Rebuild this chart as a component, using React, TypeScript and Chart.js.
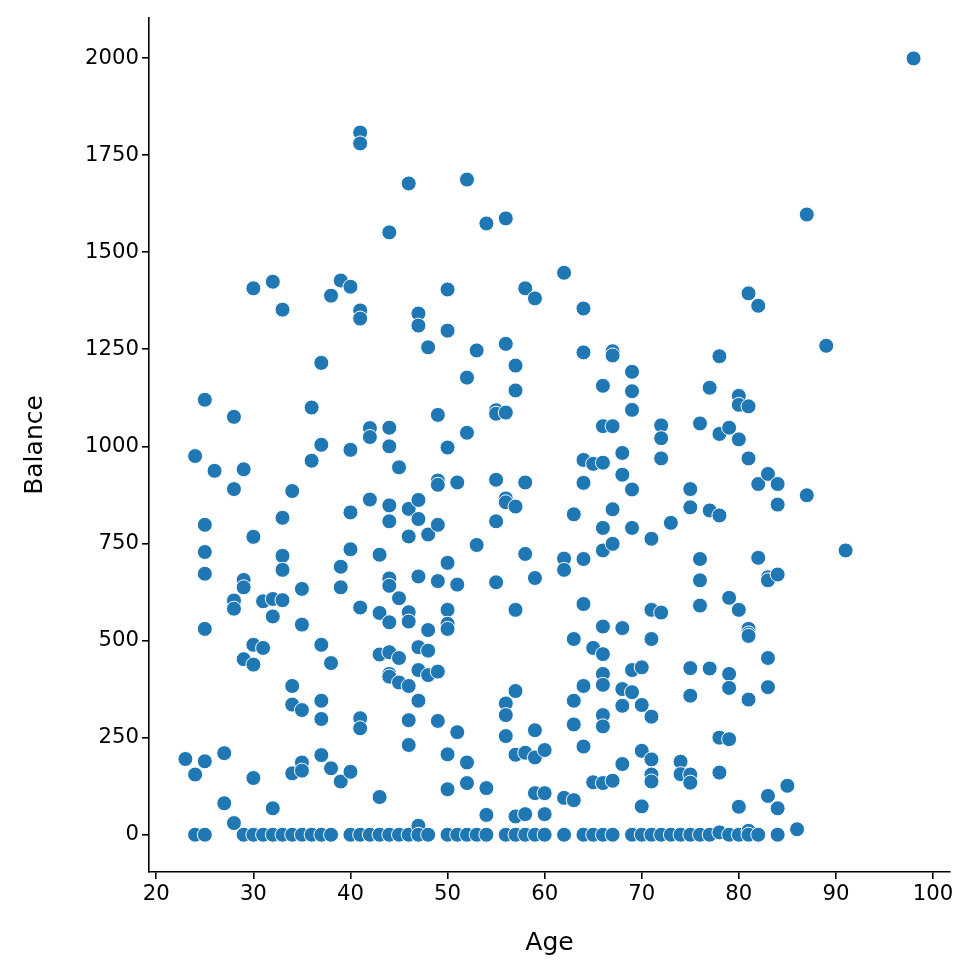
import React, { useEffect, useRef } from "react";
import { Chart, registerables } from "chart.js";

Chart.register(...registerables);

const AGES = [23, 24, 25, 26, 27, 28, 29, 30, 31, 32, 33, 34, 35, 36, 37, 38, 39, 40, 41, 42, 43, 44, 45, 46, 47, 48, 49, 50, 51, 52, 53, 54, 55, 56, 57, 58, 59, 60, 62, 63, 64, 65, 66, 67, 68, 69, 70, 71, 72, 73, 74, 75, 76, 77, 78, 79, 80, 81, 82, 83, 84, 85, 86, 87, 89, 91, 98];

const BALANCES_BY_AGE = [
  [195],
  [975, 155, 0],
  [1120, 798, 728, 672, 530, 189, 0],
  [937],
  [210, 81],
  [1076, 890, 603, 582, 30],
  [941, 656, 637, 452, 0],
  [1407, 767, 489, 438, 146, 0],
  [601, 481, 0],
  [1424, 607, 562, 68, 0],
  [1352, 816, 718, 682, 604, 0],
  [885, 383, 335, 158, 0],
  [633, 541, 321, 186, 165, 0],
  [1100, 963, 0],
  [1215, 1004, 489, 345, 298, 205, 0],
  [1388, 442, 171, 0],
  [1427, 690, 637, 137],
  [1411, 991, 830, 735, 162, 0],
  [1808, 1780, 1350, 1329, 585, 300, 274, 0],
  [1047, 1024, 863, 0],
  [721, 571, 464, 97, 0],
  [1551, 1048, 1000, 848, 807, 660, 641, 547, 470, 414, 407, 0],
  [946, 609, 455, 392, 0],
  [1677, 839, 768, 573, 549, 383, 295, 231, 0],
  [1342, 1311, 862, 813, 665, 483, 424, 345, 23, 0],
  [1255, 773, 527, 474, 411, 0],
  [1081, 912, 901, 798, 653, 420, 293],
  [1404, 1298, 997, 700, 579, 543, 530, 207, 117, 0],
  [907, 644, 264, 0],
  [1687, 1177, 1035, 186, 133, 0],
  [1247, 746, 0],
  [1574, 120, 51, 0],
  [1093, 1084, 914, 807, 650],
  [1587, 1264, 1087, 866, 856, 338, 308, 254, 0],
  [1208, 1144, 845, 579, 370, 206, 47, 0],
  [1407, 907, 723, 211, 53, 0],
  [1381, 661, 269, 199, 107, 0],
  [218, 107, 53, 0],
  [1447, 711, 682, 95, 0],
  [825, 504, 345, 284, 89],
  [1355, 1242, 965, 906, 710, 594, 383, 227, 0],
  [955, 481, 135, 0],
  [1156, 1052, 958, 790, 732, 536, 465, 414, 386, 308, 279, 133, 0],
  [1245, 1234, 1052, 838, 749, 139, 0],
  [983, 927, 532, 375, 332, 182],
  [1192, 1142, 1094, 889, 790, 424, 367, 0],
  [431, 334, 216, 73, 0],
  [762, 579, 504, 304, 194, 155, 137, 0],
  [1054, 1021, 969, 572, 0],
  [803, 0],
  [188, 156, 0],
  [890, 843, 429, 358, 155, 134, 0],
  [1059, 710, 655, 590, 0],
  [1151, 835, 428, 0],
  [1232, 1032, 822, 250, 160, 6],
  [1048, 610, 414, 378, 246, 0],
  [1130, 1107, 1018, 579, 72, 0],
  [1394, 1103, 969, 530, 518, 512, 348, 10, 0],
  [1362, 903, 713, 0],
  [929, 663, 655, 455, 380, 100],
  [903, 850, 670, 68, 0],
  [126],
  [14],
  [1597, 874],
  [1259],
  [732],
  [1999],
];

const X_TICKS = [20, 30, 40, 50, 60, 70, 80, 90, 100];
const Y_TICKS = [0, 250, 500, 750, 1000, 1250, 1500, 1750, 2000];

export default function App() {
  const ref = useRef<HTMLCanvasElement>(null);

  useEffect(() => {
    const points: { x: number; y: number }[] = [];
    AGES.forEach((a, i) => {
      BALANCES_BY_AGE[i].forEach((b) => points.push({ x: a, y: b }));
    });
    const font = { family: "'DejaVu Sans', sans-serif", size: 21.2 };
    const titleFont = { family: "'DejaVu Sans', sans-serif", size: 25 };
    const chart = new Chart(ref.current as HTMLCanvasElement, {
      type: "scatter",
      data: {
        datasets: [
          {
            data: points,
            backgroundColor: "#1f77b4",
            borderColor: "#ffffff",
            borderWidth: 1,
            pointRadius: 7.5,
            pointHoverRadius: 7.5,
          },
        ],
      },
      options: {
        animation: false,
        responsive: false,
        events: [],
        layout: { padding: { top: 18, right: 30, left: 0, bottom: 0 } },
        plugins: { legend: { display: false }, tooltip: { enabled: false } },
        scales: {
          x: {
            type: "linear",
            min: 19.25,
            max: 101.75,
            afterBuildTicks: (s: any) => {
              s.ticks = X_TICKS.map((v) => ({ value: v }));
            },
            afterFit: (s: any) => {
              s.height = 107;
            },
            grid: { display: true, drawOnChartArea: false, drawTicks: true, tickLength: 7, color: "#000", lineWidth: 1.6 },
            border: { display: true, color: "#000", width: 1.6 },
            ticks: { color: "#000", font, padding: 3, maxRotation: 0, autoSkip: false, callback: (v: any) => String(v) },
            title: { display: true, text: "Age", color: "#000", font: titleFont, padding: { top: 0, bottom: 21 } },
          },
          y: {
            type: "linear",
            min: -96,
            max: 2103,
            afterBuildTicks: (s: any) => {
              s.ticks = Y_TICKS.map((v) => ({ value: v }));
            },
            afterFit: (s: any) => {
              s.width = 149;
            },
            grid: { display: true, drawOnChartArea: false, drawTicks: true, tickLength: 7, color: "#000", lineWidth: 1.6 },
            border: { display: true, color: "#000", width: 1.6 },
            ticks: { color: "#000", font, padding: 3, autoSkip: false, callback: (v: any) => String(v) },
            title: { display: true, text: "Balance", color: "#000", font: titleFont, padding: { top: 20, bottom: 0 } },
          },
        },
      },
    });
    return () => chart.destroy();
  }, []);

  return (
    <div style={{ position: "fixed", left: 0, top: 0, width: 980, height: 979, background: "#fff" }}>
      <canvas ref={ref} width={980} height={979} style={{ display: "block" }} />
    </div>
  );
}
